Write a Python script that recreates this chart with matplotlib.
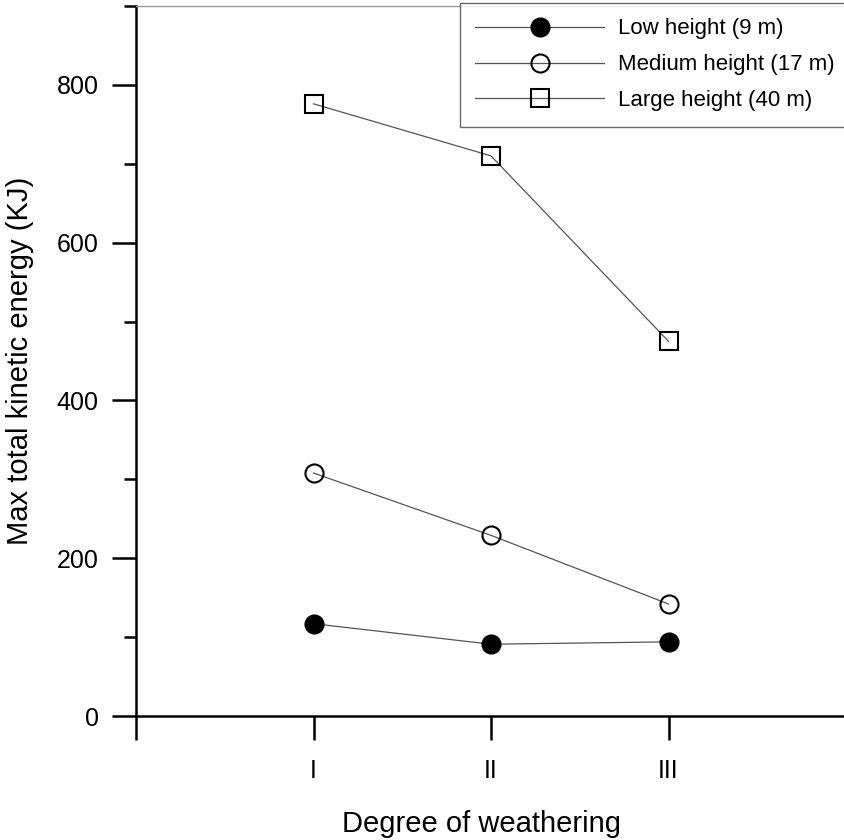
#! /usr/bin/env python3

import matplotlib
matplotlib.use("Agg")
import matplotlib.pyplot as plt
from matplotlib.ticker import MultipleLocator

"""
Données.
"""

degrees   = ["I", "II", "III"]
positions = [1, 2, 3]

low_height    = [117, 91, 94]
medium_height = [308, 229, 142]
large_height  = [776, 710, 475]

labels = ["Low height (9 m)", "Medium height (17 m)", "Large height (40 m)"]

plt.rcParams["font.family"] = ["Liberation Sans", "DejaVu Sans"]

fig = plt.figure(figsize = (8.44, 8.40), dpi = 100)
ax = fig.add_axes([136 / 844, 124 / 840, 710 / 844, 710 / 840])

line_kw = dict(color = "#555555", lw = 0.9, ms = 13, mec = "black", mew = 1.5)

ax.plot(positions, low_height, "-o", mfc = "black", label = labels[0], **line_kw)
ax.plot(positions, medium_height, "-o", mfc = "none", label = labels[1], **line_kw)
ax.plot(positions, large_height, "-s", mfc = "none", label = labels[2], **line_kw)

ax.set_xlim(0, 4)
ax.set_ylim(0, 900)
ax.set_xticks([0] + positions)
ax.set_xticklabels([""] + degrees)
ax.yaxis.set_major_locator(MultipleLocator(200))
ax.yaxis.set_minor_locator(MultipleLocator(100))

ax.spines["right"].set_visible(False)
ax.spines["top"].set_color("#999999")
ax.spines["top"].set_linewidth(1.0)
ax.spines["left"].set_linewidth(1.8)
ax.spines["bottom"].set_linewidth(1.8)

ax.tick_params(which = "major", direction = "out", length = 17, width = 1.8,
               labelsize = 18)
ax.tick_params(which = "minor", direction = "out", length = 9, width = 1.8)
ax.tick_params(axis = "x", pad = 14)
ax.tick_params(axis = "y", pad = 10)

ax.set_xlabel("Degree of weathering", fontsize = 21)
ax.set_ylabel("Max total kinetic energy (KJ)", fontsize = 21)
ax.xaxis.set_label_coords(0.486, -0.132)
ax.yaxis.set_label_coords(-0.143, 0.5)

leg = ax.legend(loc = "upper right", bbox_to_anchor = (1.005, 1.004),
                borderaxespad = 0, fontsize = 16, handlelength = 5.8,
                frameon = True, fancybox = False, edgecolor = "#444444",
                labelspacing = 0.67, borderpad = 0.69, handletextpad = 0.6)
leg.get_frame().set_linewidth(1.0)

fig.savefig("out.png", dpi = 100)
